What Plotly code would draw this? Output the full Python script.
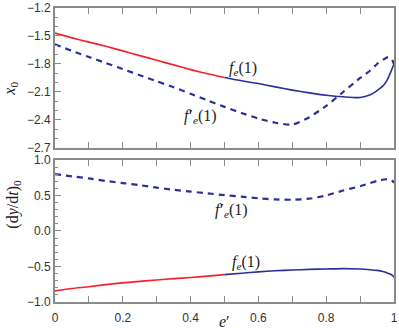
import plotly.graph_objects as go

# e' grid (denser near 1 where the curves turn sharply)
e = [0, 0.05, 0.1, 0.15, 0.2, 0.25, 0.3, 0.35, 0.4, 0.45, 0.5, 0.55, 0.6, 0.65,
     0.7, 0.75, 0.8, 0.85, 0.9, 0.93, 0.95, 0.97, 0.98, 0.99, 0.995, 1.0]

# x0 for f_e(1) (solid) and f'_e(1) (dashed)
x0_fe = [-1.47, -1.52, -1.565, -1.61, -1.66, -1.71, -1.76, -1.81, -1.86, -1.905,
         -1.945, -1.98, -2.01, -2.045, -2.08, -2.11, -2.135, -2.152, -2.16, -2.13,
         -2.085, -2.025, -1.97, -1.89, -1.845, -1.8]
x0_fpe = [-1.59, -1.66, -1.725, -1.79, -1.855, -1.92, -1.985, -2.05, -2.12, -2.19,
          -2.26, -2.325, -2.385, -2.43, -2.45, -2.37, -2.25, -2.1, -1.95, -1.87,
          -1.8, -1.75, -1.73, -1.735, -1.76, -1.8]

# (dy/dt)0 for f_e(1) (solid) and f'_e(1) (dashed)
dy_fe = [-0.843, -0.81, -0.785, -0.755, -0.73, -0.71, -0.69, -0.67, -0.655, -0.635,
         -0.615, -0.595, -0.575, -0.56, -0.55, -0.54, -0.535, -0.53, -0.535, -0.545,
         -0.555, -0.575, -0.59, -0.61, -0.625, -0.65]
dy_fpe = [0.80, 0.77, 0.74, 0.705, 0.675, 0.645, 0.61, 0.58, 0.555, 0.53,
          0.505, 0.485, 0.46, 0.445, 0.44, 0.455, 0.5, 0.57, 0.63, 0.675,
          0.705, 0.725, 0.73, 0.72, 0.705, 0.68]

xtick_vals = [0, 0.2, 0.4, 0.6, 0.8, 1.0]
xtick_text = ["0", "0.2", "0.4", "0.6", "0.8", "1"]

split = 0.5  # red up to here, blue after
RED = "#f5222a"
BLUE = "#2d2f98"
AXC = "#8a8a8a"

i_s = e.index(split)

fig = go.Figure()

def add_curves(ysolid, ydash, xa, ya):
    fig.add_trace(go.Scatter(x=e[:i_s + 1], y=ysolid[:i_s + 1], mode="lines",
                             line=dict(color=RED, width=1.7, shape="spline", smoothing=0.6),
                             xaxis=xa, yaxis=ya, showlegend=False, cliponaxis=False))
    fig.add_trace(go.Scatter(x=e[i_s:], y=ysolid[i_s:], mode="lines",
                             line=dict(color=BLUE, width=1.6, shape="spline", smoothing=0.6),
                             xaxis=xa, yaxis=ya, showlegend=False, cliponaxis=False))
    fig.add_trace(go.Scatter(x=e, y=ydash, mode="lines",
                             line=dict(color=BLUE, width=2.2, dash="6px,5px",
                                       shape="spline", smoothing=0.6),
                             xaxis=xa, yaxis=ya, showlegend=False, cliponaxis=False))

add_curves(x0_fe, x0_fpe, "x", "y")
add_curves(dy_fe, dy_fpe, "x2", "y2")

tickfont = dict(family="Liberation Sans, Arial", size=12, color="#333")
xcommon = dict(range=[0, 1], tickmode="array", tickvals=xtick_vals, ticktext=xtick_text,
               ticks="inside", ticklen=6, tickcolor=AXC, ticklabeloverflow="allow",
               showline=True, linecolor=AXC, linewidth=2, mirror="ticks",
               showgrid=False, zeroline=False, tickfont=tickfont,
               minor=dict(dtick=0.1, ticks="inside", ticklen=6, tickcolor=AXC))
ycommon = dict(ticks="inside", ticklen=6, tickcolor=AXC, showline=True, linecolor=AXC,
               linewidth=2, mirror=True, showgrid=False, zeroline=False,
               tickfont=tickfont, tickformat=".1f",
               minor=dict(dtick=0.1, ticks="inside", ticklen=3, tickcolor=AXC))

fig.update_layout(
    width=399, height=328,
    margin=dict(l=55, r=1, t=6, b=26),
    plot_bgcolor="white", paper_bgcolor="white",
    xaxis=dict(xcommon, anchor="y", showticklabels=False),
    yaxis=dict(ycommon, domain=[0.524, 1], range=[-2.7, -1.2], dtick=0.3, anchor="x"),
    xaxis2=dict(xcommon, anchor="y2", ticklabelstandoff=4),
    yaxis2=dict(ycommon, domain=[0, 0.483], range=[-1, 1], dtick=0.5, anchor="x2"),
)

serif = dict(family="Liberation Serif, Times New Roman", size=16, color="#222")
labels = [
    ("x", "y", 0.555, -1.85, "<i>f</i><sub><i>e</i></sub>(1)"),
    ("x", "y", 0.43, -2.36, "<i>f</i><b>\u2032</b><sub><i>e</i></sub>(1)"),
    ("x2", "y2", 0.52, 0.29, "<i>f</i><b>\u2032</b><sub><i>e</i></sub>(1)"),
    ("x2", "y2", 0.563, -0.45, "<i>f</i><sub><i>e</i></sub>(1)"),
]
for xr, yr, xv, yv, txt in labels:
    fig.add_annotation(xref=xr, yref=yr, x=xv, y=yv, text=txt, showarrow=False, font=serif)

# axis titles
fig.add_annotation(xref="paper", yref="paper", x=-0.132, y=0.757, text="<i>x</i><sub>0</sub>",
                   textangle=-90, showarrow=False, font=serif, xanchor="center")
fig.add_annotation(xref="paper", yref="paper", x=-0.125, y=0.243,
                   text="(d<i>y</i>/d<i>t</i>)<sub>0</sub>",
                   textangle=-90, showarrow=False, font=serif, xanchor="center")
fig.add_annotation(xref="paper", yref="paper", x=0.5, y=-0.066, text="<i>e</i>\u2032",
                   showarrow=False, font=serif, xanchor="center", yanchor="middle")

fig.write_html("out.html", config={"displayModeBar": False},
               post_script="document.body.style.margin='0';")
